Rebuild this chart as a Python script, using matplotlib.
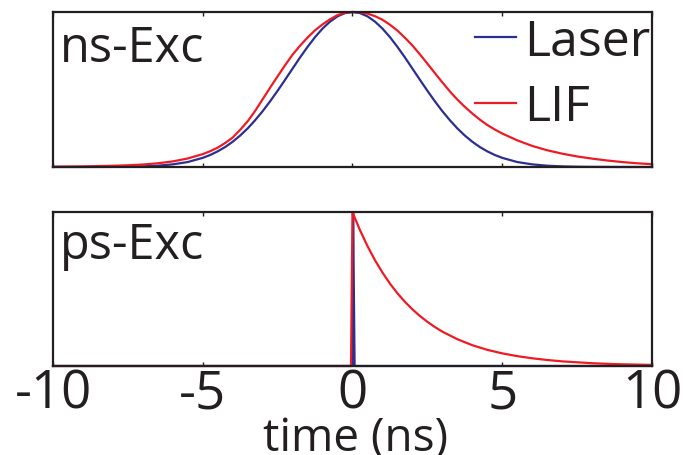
import matplotlib
matplotlib.use("Agg")
import matplotlib.pyplot as plt

# time grid (ns) for the ns-excitation curves (finer around the peak)
t_ns = [-10, -9.5, -9, -8.5, -8, -7.5, -7, -6.5, -6, -5.5,
        -5, -4.75, -4.5, -4.25, -4, -3.75, -3.5, -3.25, -3, -2.75, -2.5, -2.25, -2, -1.75, -1.5, -1.25, -1,
        -0.75, -0.5, -0.25, 0,
        0.25, 0.5, 0.75, 1, 1.25, 1.5, 1.75, 2, 2.25, 2.5, 2.75, 3, 3.25, 3.5, 3.75, 4, 4.25, 4.5, 4.75, 5,
        5.5, 6, 6.5, 7, 7.5, 8, 8.5, 9, 9.5, 10]

laser_ns = [0, 0, 0, 0.0003, 0.0007, 0.0017, 0.0039, 0.0083, 0.017, 0.032,
            0.059, 0.0775, 0.101, 0.129, 0.163, 0.203, 0.249, 0.302, 0.360, 0.424, 0.492, 0.563, 0.635, 0.707,
            0.775, 0.838, 0.893, 0.938, 0.972, 0.993, 1.0,
            0.993, 0.972, 0.938, 0.893, 0.838, 0.775, 0.707, 0.635, 0.563, 0.492, 0.424, 0.360, 0.302, 0.249,
            0.203, 0.163, 0.129, 0.101, 0.0775, 0.059,
            0.032, 0.017, 0.0083, 0.0039, 0.0017, 0.0007, 0.0003, 0, 0, 0]

lif_ns = [0.002, 0.003, 0.004, 0.006, 0.008, 0.011, 0.016, 0.024, 0.036, 0.055,
          0.083, 0.102, 0.125, 0.155, 0.19, 0.24, 0.295, 0.362, 0.437, 0.512, 0.585, 0.657, 0.725, 0.783,
          0.835, 0.882, 0.92, 0.953, 0.98, 0.995, 1.0,
          0.998, 0.99, 0.973, 0.95, 0.918, 0.88, 0.834, 0.784, 0.727, 0.667, 0.606, 0.546, 0.488, 0.435,
          0.388, 0.345, 0.306, 0.271, 0.242, 0.216,
          0.172, 0.136, 0.108, 0.086, 0.068, 0.054, 0.042, 0.032, 0.024, 0.018]

# ps excitation: laser is a spike at t=0, LIF decays from it
t_ps_laser = [-10, 0.0, 0.02, 0.07, 10]
laser_ps = [0, 0, 1.0, 0, 0]

t_ps_lif = [-10, -0.05, 0, 0.1, 0.25, 0.5, 0.75, 1, 1.25, 1.5, 1.75, 2, 2.25, 2.5, 2.75, 3, 3.5, 4, 4.5, 5,
            5.5, 6, 6.5, 7, 7.5, 8, 8.5, 9, 9.5, 10]
lif_ps = [0, 0, 1.0, 0.951, 0.882, 0.779, 0.687, 0.607, 0.535, 0.472, 0.417, 0.368, 0.325, 0.287, 0.253,
          0.223, 0.174, 0.135, 0.105, 0.082, 0.064, 0.050, 0.039, 0.030, 0.024, 0.018, 0.014, 0.011, 0.009,
          0.007]

xticks = [-10, -5, 0, 5, 10]
xtick_labels = ["-10", "-5", "0", "5", "10"]

plt.rcParams["font.family"] = ["Open Sans", "DejaVu Sans"]

blue = "#2b2f8f"
red = "#ed1c24"
ink = "#231f20"

fig = plt.figure(figsize=(6.83, 4.56), dpi=100)
ax1 = fig.add_axes([0.0776, 0.6316, 0.877, 0.3399])
ax2 = fig.add_axes([0.0776, 0.1952, 0.877, 0.3377])

for ax in (ax1, ax2):
    ax.set_xlim(-10, 10)
    ax.set_ylim(0, 1.0)
    ax.set_xticks(xticks)
    ax.set_yticks([])
    ax.tick_params(axis="x", direction="in", top=True, length=3, width=1, color=ink,
                   labelsize=38, pad=1, labelcolor=ink)
    for s in ax.spines.values():
        s.set_linewidth(1.6)
        s.set_color(ink)

ax1.plot(t_ns, laser_ns, color=blue, lw=1.6, label="Laser", clip_on=False)
ax1.plot(t_ns, lif_ns, color=red, lw=1.6, label="LIF", clip_on=False)
ax1.set_xticklabels([])
ax1.text(0.012, 0.686, "ns-Exc", transform=ax1.transAxes, fontsize=35, color=ink, va="baseline", ha="left")
ax1.legend(loc="upper right", bbox_to_anchor=(0.998, 0.965), frameon=False, fontsize=36,
           handlelength=0.82, handletextpad=0.18, labelspacing=0.32, borderpad=0.0, borderaxespad=0.0,
           labelcolor=ink)

ax2.plot(t_ps_laser, laser_ps, color=blue, lw=1.6, clip_on=False)
ax2.plot(t_ps_lif, lif_ps, color=red, lw=1.6, clip_on=False)
ax2.set_xticklabels(xtick_labels)
ax2.text(0.012, 0.70, "ps-Exc", transform=ax2.transAxes, fontsize=35, color=ink, va="baseline", ha="left")

fig.text(0.52, 0.012, "time (ns)", fontsize=33, color=ink, ha="center", va="baseline")

fig.savefig("out.png", dpi=100)
